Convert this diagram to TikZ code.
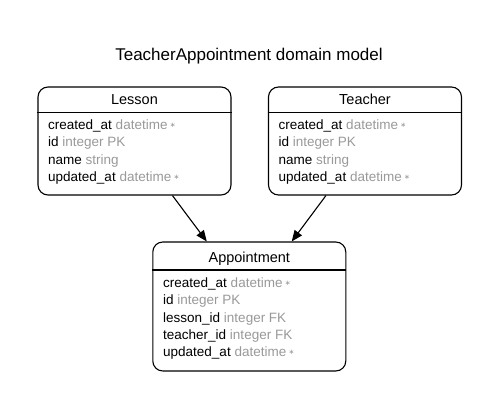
\documentclass[tikz,border=0pt]{standalone}
\usepackage{fontspec}
\setmainfont{Liberation Sans}
\newfontfamily\symfont{DejaVu Sans}
\usetikzlibrary{arrows.meta,calc}
\definecolor{attrgray}{HTML}{999999}
\tikzset{
  entity/.style={draw=black, line width=1.1pt, rounded corners=10pt, inner sep=0pt, minimum width=193pt},
  divider/.style={draw=black, line width=1.1pt},
  title/.style={font=\fontsize{17}{20}\selectfont, anchor=base, inner sep=0pt},
  header/.style={font=\fontsize{14.5}{17}\selectfont, anchor=base, inner sep=0pt},
  row/.style={font=\fontsize{13.5}{16}\selectfont, anchor=base west, inner sep=0pt},
  rel/.style={draw=black, line width=1.1pt, -{Triangle[length=11pt,width=9pt]}},
}
\newcommand{\ty}[1]{\textcolor{attrgray}{#1}}
\newcommand{\mk}{\textcolor{attrgray}{\,\raisebox{2pt}{\symfont\fontsize{7}{7}\selectfont ∗}}}
\begin{document}
\begin{tikzpicture}[x=1pt,y=-1pt]
\useasboundingbox (0,0) rectangle (499,409);
\node[title] (ttl) at (249,61) {TeacherAppointment domain model};

% Lesson
\node[entity, minimum height=108pt] (lesson) at (134.5,141) {};
\draw[divider] (lesson.west |- 0,112.5) -- (lesson.east |- 0,112.5);
\node[header] (lh) at (134.5,104.7) {Lesson};
\node[row] (l1) at (48,129.7) {created\_at \ty{datetime}\mk};
\node[row] (l2) at (48,147) {id \ty{integer PK}};
\node[row] (l3) at (48,164.2) {name \ty{string}};
\node[row] (l4) at (48,181.4) {updated\_at \ty{datetime}\mk};

% Teacher
\node[entity, minimum height=108pt] (teacher) at (365,141) {};
\draw[divider] (teacher.west |- 0,112.5) -- (teacher.east |- 0,112.5);
\node[header] (th) at (365,104.7) {Teacher};
\node[row] (t1) at (278.5,129.7) {created\_at \ty{datetime}\mk};
\node[row] (t2) at (278.5,147) {id \ty{integer PK}};
\node[row] (t3) at (278.5,164.2) {name \ty{string}};
\node[row] (t4) at (278.5,181.4) {updated\_at \ty{datetime}\mk};

% Appointment
\node[entity, minimum height=129pt] (appt) at (249.3,306.5) {};
\draw[divider] (appt.west |- 0,270) -- (appt.east |- 0,270);
\node[header] (ah) at (249.3,263) {Appointment};
\node[row] (a1) at (163,287.6) {created\_at \ty{datetime}\mk};
\node[row] (a2) at (163,304.9) {id \ty{integer PK}};
\node[row] (a3) at (163,322.1) {lesson\_id \ty{integer FK}};
\node[row] (a4) at (163,339.3) {teacher\_id \ty{integer FK}};
\node[row] (a5) at (163,356.5) {updated\_at \ty{datetime}\mk};

% relations
\draw[rel] ([xshift=135pt]lesson.south west) -- ([xshift=54.5pt]appt.north west);
\draw[rel] ([xshift=58pt]teacher.south west) -- ([xshift=139.5pt]appt.north west);
\end{tikzpicture}
\end{document}
